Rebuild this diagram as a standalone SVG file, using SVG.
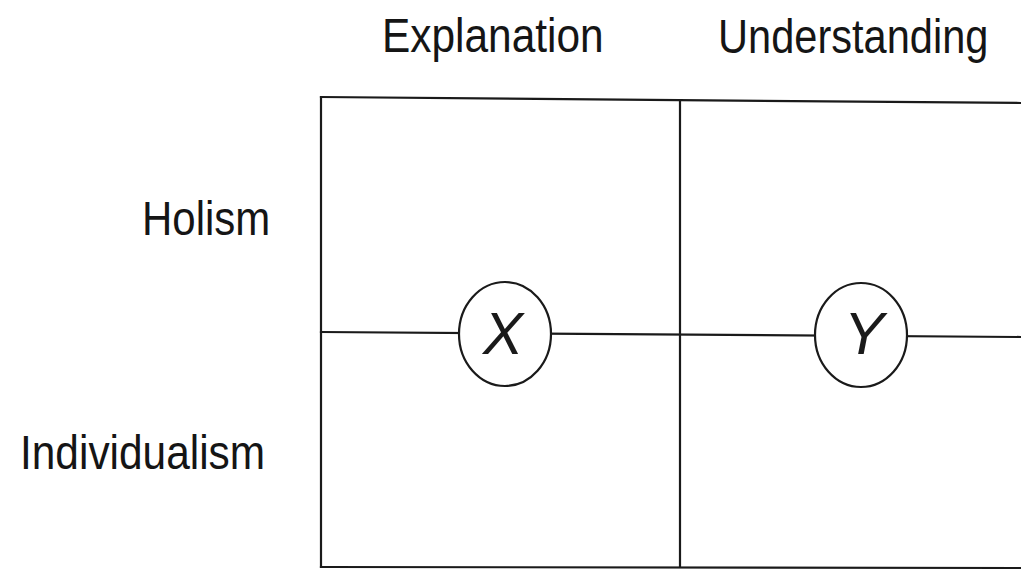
<svg xmlns="http://www.w3.org/2000/svg" width="1021" height="573" viewBox="0 0 1021 573">
<style>
.lbl{font-family:"Liberation Sans",Arial,sans-serif;font-size:42px;fill:#151515}
.ln{stroke:#1a1a1a;stroke-width:2.2;fill:none;stroke-linecap:square}
.node{fill:#fff;stroke:#1a1a1a;stroke-width:2.2}
.sym{font-family:"Liberation Sans",Arial,sans-serif;font-style:italic;font-size:60px;fill:#1a1a1a}
</style>
<rect width="1021" height="573" fill="#fff"/>
<g id="labels">
<text class="lbl" transform="translate(382,52) scale(1.01,1.13)">Explanation</text>
<text class="lbl" transform="translate(718,53) scale(0.99,1.13)">Understanding</text>
<text class="lbl" transform="translate(142,235) scale(1,1.13)">Holism</text>
<text class="lbl" transform="translate(20,469) scale(1.01,1.13)">Individualism</text>
</g>
<g id="connectors">
<line class="ln" x1="321" y1="97" x2="1021" y2="103"/>
<line class="ln" x1="321" y1="97" x2="321" y2="567"/>
<line class="ln" x1="680" y1="100" x2="680" y2="567"/>
<line class="ln" x1="321" y1="567" x2="1021" y2="568"/>
<line class="ln" x1="321" y1="332" x2="1021" y2="337"/>
</g>
<g id="node-x">
<ellipse class="node" cx="505" cy="334" rx="46" ry="52"/>
<text class="sym" x="503" y="354" text-anchor="middle">X</text>
</g>
<g id="node-y">
<ellipse class="node" cx="861" cy="335" rx="46" ry="52"/>
<text class="sym" x="864" y="354" text-anchor="middle">Y</text>
</g>
</svg>
